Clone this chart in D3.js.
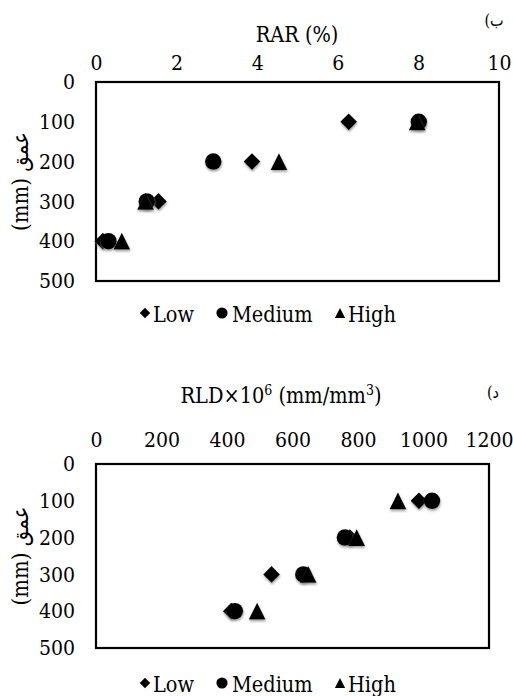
<!DOCTYPE html>
<html>
<head>
<meta charset="utf-8">
<script src="https://cdn.jsdelivr.net/npm/d3@7"></script>
<style>
  html, body { margin: 0; padding: 0; background: #fff; }
  svg { display: block; }
  svg text { font-family: "DejaVu Serif", "DejaVu Sans", serif; font-stretch: condensed; fill: #000; }
</style>
</head>
<body>
<svg id="chart" width="513" height="696"></svg>
<script>
// Sampling depths (mm)
const depths = [100, 200, 300, 400];

// Root area ratio, RAR (%)
const rarLow    = [6.27, 3.87, 1.55, 0.17];
const rarMedium = [8.01, 2.91, 1.26, 0.31];
const rarHigh   = [7.97, 4.54, 1.23, 0.64];

// Root length density, RLD x 10^6 (mm/mm3)
const rldLow    = [986, 775, 536, 413];
const rldMedium = [1026, 760, 633, 424];
const rldHigh   = [922, 796, 648, 492];

const seriesNames = ["Low", "Medium", "High"];
const rarTicks = [0, 2, 4, 6, 8, 10];
const rldTicks = [0, 200, 400, 600, 800, 1000, 1200];
const depthTicks = [0, 100, 200, 300, 400, 500];

const svg = d3.select("#chart");

// Marker shapes: square-rotated diamond, circle, flat-based triangle
const diamondType = {
  draw(ctx, size) {
    const r = Math.sqrt(size) / 2;
    ctx.moveTo(0, -r); ctx.lineTo(r, 0); ctx.lineTo(0, r); ctx.lineTo(-r, 0); ctx.closePath();
  }
};
const circleType = {
  draw(ctx, size) {
    const r = Math.sqrt(size) / 2;
    ctx.moveTo(r, 0); ctx.arc(0, 0, r, 0, 2 * Math.PI);
  }
};
const triangleType = {
  draw(ctx, size) {
    const r = Math.sqrt(size) / 2;
    ctx.moveTo(0, -r); ctx.lineTo(r, r); ctx.lineTo(-r, r); ctx.closePath();
  }
};
const shapes = [diamondType, circleType, triangleType];

// Soft marker shadow
const defs = svg.append("defs");
const f = defs.append("filter").attr("id", "mshadow")
  .attr("x", "-50%").attr("y", "-50%").attr("width", "200%").attr("height", "200%");
f.append("feDropShadow").attr("dx", 0.5).attr("dy", 1.8).attr("stdDeviation", 1.1)
  .attr("flood-color", "#777").attr("flood-opacity", 0.7);

function panel(cfg) {
  const g = svg.append("g");
  const x = d3.scaleLinear().domain(cfg.xDomain).range([cfg.left, cfg.right]);
  const y = d3.scaleLinear().domain([0, 500]).range([cfg.top, cfg.bottom]);

  // x axis labels along the top
  const xa = g.append("g").attr("transform", `translate(0,${cfg.top})`)
    .call(d3.axisTop(x).tickValues(cfg.xTicks).tickSize(0).tickPadding(cfg.xPad).tickFormat(d3.format("d")));
  xa.attr("font-family", null).attr("font-size", 21);
  xa.select(".domain").remove();

  // depth axis labels on the left
  const ya = g.append("g").attr("transform", `translate(${cfg.left},0)`)
    .call(d3.axisLeft(y).tickValues(depthTicks).tickSize(0).tickPadding(21).tickFormat(d3.format("d")));
  ya.attr("font-family", null).attr("font-size", 21);
  ya.select(".domain").remove();

  // plot frame
  g.append("rect")
    .attr("x", x.range()[0]).attr("y", y.range()[0])
    .attr("width", x.range()[1] - x.range()[0]).attr("height", y.range()[1] - y.range()[0])
    .attr("fill", "none").attr("stroke", "#000").attr("stroke-width", 2.2);

  // data markers
  cfg.series.forEach((vals, i) => {
    g.append("g").attr("filter", "url(#mshadow)")
      .selectAll("path").data(vals).join("path")
      .attr("transform", (v, j) => `translate(${x(v)},${y(depths[j])})`)
      .attr("d", d3.symbol().type(shapes[i]).size(i === 1 ? 272 : 280))
      .attr("fill", "#000");
  });

  // axis title
  const t = g.append("text").attr("x", cfg.titleX).attr("y", cfg.titleY)
    .attr("text-anchor", "middle").attr("font-size", 21.5);
  cfg.title(t);

  // panel letter (right-to-left, closing parenthesis mirrored)
  g.append("text").attr("x", cfg.tagX).attr("y", cfg.tagY)
    .attr("text-anchor", "middle")
    .attr("font-size", 16)
    .text(cfg.tag + "\u200F");

  // depth title
  g.append("text")
    .attr("transform", `translate(28,${(cfg.top + cfg.bottom) / 2}) rotate(-90)`)
    .attr("text-anchor", "middle").attr("font-size", 22)
    .text("(mm) عمق");

  // legend
  const lg = g.append("g").attr("transform", `translate(0,${cfg.legendY})`);
  const lx = [145, 222, 340];
  const lsize = [110, 125, 105];
  seriesNames.forEach((name, i) => {
    lg.append("path").attr("transform", `translate(${lx[i]},0)`)
      .attr("d", d3.symbol().type(shapes[i]).size(lsize[i])).attr("fill", "#000");
    lg.append("text").attr("x", lx[i] + (i === 1 ? 10 : 8)).attr("y", 8.5)
      .attr("font-size", 21.5).text(name);
  });
}

panel({
  xDomain: [0, 10], xTicks: rarTicks, left: 96, right: 499, top: 82, bottom: 281, xPad: 12,
  series: [rarLow, rarMedium, rarHigh],
  titleX: 297, titleY: 42,
  title: t => t.text("RAR (%)"),
  tag: "ب)", tagX: 494, tagY: 26,
  legendY: 313
});

panel({
  xDomain: [0, 1200], xTicks: rldTicks, left: 96, right: 489, top: 464, bottom: 648, xPad: 17,
  series: [rldLow, rldMedium, rldHigh],
  titleX: 281, titleY: 403,
  title: t => {
    t.append("tspan").text("RLD×10");
    t.append("tspan").attr("font-size", 14).attr("dy", -8).text("6");
    t.append("tspan").attr("dy", 8).text(" (mm/mm");
    t.append("tspan").attr("font-size", 14).attr("dy", -8).text("3");
    t.append("tspan").attr("dy", 8).text(")");
  },
  tag: "د)", tagX: 493, tagY: 398,
  legendY: 683
});
</script>
</body>
</html>
